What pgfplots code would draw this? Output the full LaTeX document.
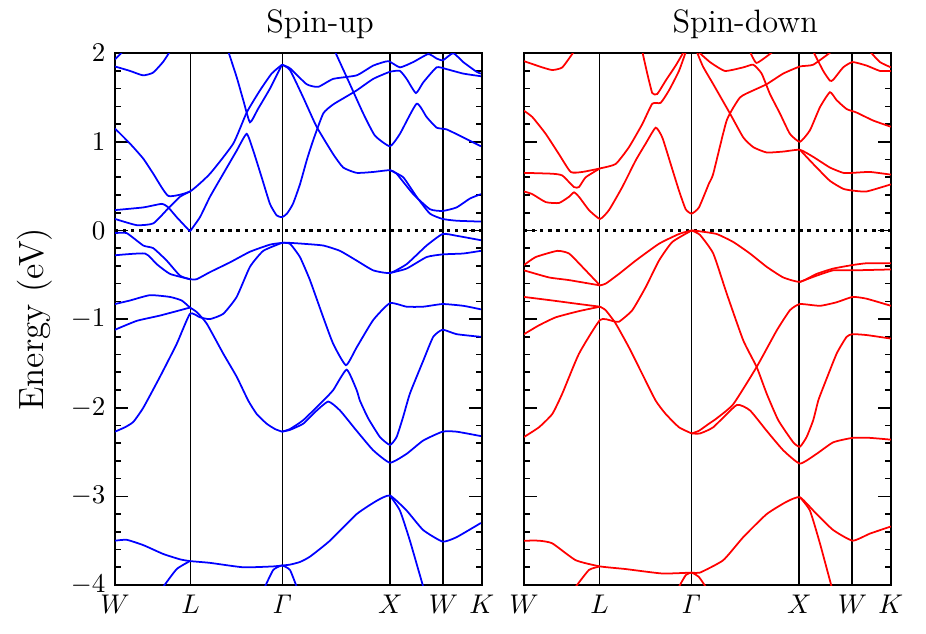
\documentclass[border=0pt]{standalone}
\usepackage{pgfplots}
\pgfplotsset{compat=1.18}
\begin{document}
\begin{tikzpicture}
\pgfplotsset{
  bandaxis/.style={
    scale only axis, width=135.9pt, height=197pt,
    xmin=0, xmax=367, ymin=-4, ymax=2,
    xtick={0,75.5,167.5,275.5,328.5,367},
    xticklabels={$W$,$L$,$\mathit{\Gamma}$,$X$,$W$,$K$},
    xtick style={draw=none},
    ytick={-4,-3,...,2}, minor y tick num=4,
    major tick length=4.7pt, minor tick length=2.2pt,
    tick style={black, line width=0.6pt},
    axis line style={line width=0.7pt},
    tick align=inside,
    title style={font=\large, yshift=-4.3pt},
    ylabel style={font=\fontsize{13}{15}\selectfont},
  },
  up/.style={blue, line width=0.65pt, mark=none, smooth, tension=0.3},
  dn/.style={red, line width=0.65pt, mark=none, smooth, tension=0.3},
  zero/.style={black, line width=0.8pt, dash pattern=on 1.2pt off 1.8pt},
  kline/.style={black, line width=0.7pt, mark=none},
}
\useasboundingbox (-42.6pt,-18.1pt) rectangle (300.4pt,216.7pt);

% ---------------- spin-up ----------------
\begin{axis}[bandaxis, title={Spin-up}, title style={xshift=8pt}, ylabel={Energy (eV)}]
\addplot[kline] coordinates {(75.5,-4) (75.5,2)};
\addplot[kline] coordinates {(167.5,-4) (167.5,2)};
\addplot[kline] coordinates {(275.5,-4) (275.5,2)};
\addplot[kline] coordinates {(328.5,-4) (328.5,2)};
\addplot[zero] coordinates {(0,0) (367,0)};
\addplot[up] coordinates {(0,1.93) (8,2.02)};
\addplot[up] coordinates {(0,1.85) (15,1.80) (28,1.75) (38,1.78) (48,1.9) (55,2.02)};
\addplot[up] coordinates {(0,1.15) (15,0.98) (28.3,0.81) (38.3,0.64) (53.3,0.39) (75,0.44) (95,0.64) (118.3,0.98) (131.7,1.33) (145,1.58) (156.7,1.77) (167,1.87)};
\addplot[up] coordinates {(113.3,2.02) (121.7,1.73) (128.3,1.47) (135,1.22) (143,1.37) (155,1.60) (163,1.78) (167,1.87)};
\addplot[up] coordinates {(75,-0.01) (85,0.15) (95,0.38) (108.3,0.64) (121.7,0.90) (131.7,1.09) (138.3,0.90) (146.7,0.60) (155,0.30) (161.7,0.17) (167,0.15) (172,0.19) (178,0.30) (185,0.52) (192,0.80) (198.3,1.02) (208.3,1.32) (218,1.42) (228.3,1.49) (241.7,1.58) (258.3,1.71) (275,1.79) (285,1.80) (291.7,1.71) (301,1.55) (308.3,1.67) (321.7,1.84) (331.7,1.82) (348.3,1.77) (366,1.74)};
\addplot[up] coordinates {(0,0.23) (28.3,0.26) (46.7,0.30) (53.3,0.26) (61.7,0.15) (75,-0.01)};
\addplot[up] coordinates {(0,0.13) (21.7,0.06) (38.3,0.08) (53.3,0.25) (65,0.38) (75,0.44)};
\addplot[up] coordinates {(0,-0.03) (11.7,-0.03) (28.3,-0.17) (38.3,-0.20) (51.7,-0.34) (65,-0.51) (75,-0.55)};
\addplot[up] coordinates {(0,-0.28) (30,-0.26) (41.7,-0.38) (55,-0.49) (75,-0.55)};
\addplot[up] coordinates {(75,-0.55) (81.7,-0.55) (95,-0.47) (115,-0.36) (135,-0.24) (155,-0.16) (167,-0.14) (175,-0.14) (188.3,-0.15) (208.3,-0.17) (225,-0.23) (241.7,-0.34) (258.3,-0.45) (275,-0.48) (291.7,-0.38) (311.7,-0.17) (327.7,-0.04) (341.7,-0.06) (366,-0.11)};
\addplot[up] coordinates {(275,-0.48) (291.7,-0.43) (311.7,-0.30) (327.7,-0.27) (348.3,-0.26) (366,-0.23)};
\addplot[up] coordinates {(0,-0.83) (15,-0.79) (35,-0.73) (55,-0.75) (66.7,-0.79) (75,-0.87)};
\addplot[up] coordinates {(0,-1.12) (21.7,-1.02) (45,-0.96) (75,-0.87)};
\addplot[up] coordinates {(75,-0.87) (81.7,-0.92) (91.7,-1.05) (108.3,-1.39) (121.7,-1.65) (133.3,-1.92) (141.7,-2.07) (151.7,-2.18) (160,-2.24) (167,-2.27)};
\addplot[up] coordinates {(0,-2.27) (10,-2.22) (18.3,-2.16) (28.3,-2.0) (45,-1.65) (61.7,-1.28) (75,-0.94) (85,-0.98) (95,-1.0) (108.3,-0.94) (121.7,-0.75) (135,-0.41) (148.3,-0.23) (167,-0.14)};
\addplot[up] coordinates {(167,-0.14) (175,-0.15) (185,-0.30) (195,-0.56) (208.3,-0.98) (218.3,-1.28) (231,-1.52) (241.7,-1.32) (258.3,-1.01) (275,-0.82) (291.7,-0.86) (308.3,-0.86) (327.7,-0.83) (348.3,-0.85) (366,-0.89)};
\addplot[up] coordinates {(167,-2.27) (175,-2.24) (188.3,-2.14) (208.3,-1.92) (218.3,-1.80) (231.7,-1.57) (241.7,-1.80) (245,-1.92) (253.3,-2.12) (265,-2.33) (275,-2.42) (281.7,-2.33) (288.3,-2.1) (295,-1.84) (308.3,-1.47) (318.3,-1.20) (327.7,-1.12) (341.7,-1.17) (366,-1.20)};
\addplot[up] coordinates {(167,-2.27) (175,-2.25) (188.3,-2.18) (200,-2.05) (213.3,-1.93) (225,-2.03) (241.7,-2.26) (258.3,-2.48) (275,-2.62) (291.7,-2.52) (308.3,-2.37) (327.7,-2.27) (341.7,-2.27) (366,-2.32)};
\addplot[up] coordinates {(167,1.87) (175,1.83) (191.7,1.65) (203.3,1.62) (218.3,1.71) (241.7,1.75) (258.3,1.86) (273.3,1.91) (285,1.84) (298.3,1.90) (313.3,1.99) (321.7,1.94) (328,1.92) (338.3,2.0) (348.3,1.90) (361.7,1.79) (366,1.77)};
\addplot[up] coordinates {(167,1.87) (175,1.81) (188.3,1.50) (201.7,1.17) (218.3,0.86) (228.3,0.71) (241.7,0.65) (258.3,0.66) (275,0.68) (281.7,0.64) (298.3,0.41) (315,0.24) (327.7,0.22) (341.7,0.26) (355,0.36) (366,0.41)};
\addplot[up] coordinates {(275,0.68) (288.3,0.60) (301.7,0.38) (315,0.19) (327.7,0.13) (341.7,0.11) (366,0.10)};
\addplot[up] coordinates {(220,2.02) (235,1.65) (248.3,1.32) (260,1.07) (275,0.95) (285,1.09) (301.7,1.43) (311.7,1.28) (321.7,1.16) (331.7,1.14) (348.3,1.05) (366,0.95)};
\addplot[up] coordinates {(0,-3.50) (11.7,-3.49) (28.3,-3.55) (48.3,-3.65) (65,-3.71) (75,-3.73) (95,-3.75) (128.3,-3.80) (158.3,-3.79) (167,-3.78) (175,-3.77) (185,-3.74) (195,-3.68) (215,-3.50) (241.7,-3.20) (261.7,-3.05) (275,-2.99) (291.7,-3.16) (308.3,-3.38) (327.7,-3.51) (341.7,-3.46) (366,-3.30)};
\addplot[up] coordinates {(48.3,-4.02) (61.7,-3.82) (75,-3.73)};
\addplot[up] coordinates {(150,-4.02) (158.3,-3.83) (167,-3.78) (175,-3.83) (181.7,-4.02)};
\addplot[up] coordinates {(275,-2.99) (285,-3.16) (295,-3.50) (308.3,-4.02)};
\end{axis}

% ---------------- spin-down ----------------
\begin{axis}[bandaxis, at={(151.5pt,0pt)}, anchor=south west, title={Spin-down}, title style={xshift=14pt}, yticklabels={}]
\addplot[kline] coordinates {(75.5,-4) (75.5,2)};
\addplot[kline] coordinates {(167.5,-4) (167.5,2)};
\addplot[kline] coordinates {(275.5,-4) (275.5,2)};
\addplot[kline] coordinates {(328.5,-4) (328.5,2)};
\addplot[zero] coordinates {(0,0) (367,0)};
\addplot[dn] coordinates {(0,1.91) (18.3,1.84) (28.3,1.81) (38.3,1.84) (50,2.02)};
\addplot[dn] coordinates {(0,1.35) (8.3,1.28) (21.7,1.09) (35,0.86) (46.7,0.66) (58.3,0.66) (76,0.70) (91.7,0.75) (105,0.94) (118.3,1.20) (128.3,1.43) (136.7,1.44) (145,1.58) (155,1.80) (162,2.02)};
\addplot[dn] coordinates {(118.3,2.02) (123.3,1.77) (128.3,1.55) (133.3,1.54) (141.7,1.69) (151.7,1.86) (160,2.02)};
\addplot[dn] coordinates {(0,0.65) (28.3,0.64) (38.3,0.62) (50,0.49) (55,0.49) (61.7,0.60) (76,0.70)};
\addplot[dn] coordinates {(0,0.44) (8.3,0.41) (21.7,0.32) (35,0.31) (45,0.38) (50,0.43) (55,0.38) (65,0.23) (76,0.13) (85,0.23) (98.3,0.49) (111.7,0.79) (121.7,0.98) (131.7,1.16) (138.3,1.05) (146.7,0.75) (155,0.45) (161.7,0.24) (167.7,0.19) (175,0.26) (185,0.53) (189.3,0.64) (202.7,1.24) (216,1.50) (229.3,1.58) (242.7,1.65) (259.3,1.77) (276,1.85) (289.3,1.87) (307.7,2.02)};
\addplot[dn] coordinates {(172,2.04) (186,1.90) (201,1.80) (219.3,1.84) (229.3,1.87) (237.7,1.77) (246,1.54) (256,1.32) (266,1.09) (276,1.0) (286,1.13) (296,1.39) (306,1.56) (312.7,1.47) (322.7,1.37) (332.7,1.33) (349.3,1.24) (367,1.17)};
\addplot[dn] coordinates {(226,2.02) (232.7,1.89) (249.3,2.02)};
\addplot[dn] coordinates {(172,2.04) (179,1.85) (189.3,1.65) (206,1.32) (219.3,1.05) (229.3,0.94) (242.7,0.88) (259.3,0.89) (276,0.91) (289.3,0.83) (306,0.71) (319.3,0.65) (328.7,0.65) (346,0.66) (367,0.63)};
\addplot[dn] coordinates {(276,0.91) (289.3,0.75) (306,0.56) (319.3,0.47) (328.7,0.45) (342.7,0.44) (367,0.52)};
\addplot[dn] coordinates {(289.3,2.02) (299.3,1.80) (306,1.69) (309.3,1.70) (319.3,1.84) (328.7,1.90) (342.7,1.86) (356,1.80) (367,1.80)};
\addplot[dn] coordinates {(346,2.02) (356,1.90) (367,1.84)};
\addplot[dn] coordinates {(0,-0.39) (11.7,-0.30) (33.3,-0.23) (45,-0.26) (58.3,-0.41) (76,-0.62)};
\addplot[dn] coordinates {(0,-0.45) (25,-0.53) (45,-0.56) (76,-0.62)};
\addplot[dn] coordinates {(76,-0.62) (81.7,-0.60) (95,-0.49) (111.7,-0.34) (135,-0.15) (155,-0.04) (167.7,0.0) (176,-0.01) (192.7,-0.04) (209.3,-0.13) (226,-0.26) (242.7,-0.41) (259.3,-0.53) (276,-0.58) (292.7,-0.49) (309.3,-0.43) (328.7,-0.39) (342.7,-0.37) (367,-0.37)};
\addplot[dn] coordinates {(276,-0.58) (292.7,-0.51) (309.3,-0.45) (328.7,-0.45) (367,-0.44)};
\addplot[dn] coordinates {(0,-0.75) (28.3,-0.79) (55,-0.83) (76,-0.86)};
\addplot[dn] coordinates {(0,-1.17) (15,-1.07) (31.7,-0.98) (55,-0.91) (76,-0.86)};
\addplot[dn] coordinates {(76,-0.86) (81.7,-0.90) (91.7,-1.05) (105,-1.32) (118.3,-1.62) (131.7,-1.92) (141.7,-2.07) (155,-2.22) (167.7,-2.29)};
\addplot[dn] coordinates {(0,-2.33) (15,-2.22) (28.3,-2.07) (38.3,-1.84) (55,-1.39) (76,-1.01) (88.3,-1.02) (95,-1.03) (108.3,-0.90) (121.7,-0.64) (135,-0.34) (148.3,-0.13) (167.7,0.0)};
\addplot[dn] coordinates {(167.7,0.0) (176,-0.05) (189.3,-0.26) (202.7,-0.71) (219.3,-1.24) (232.7,-1.54) (242.7,-1.84) (254.3,-2.14) (269.3,-2.39) (276,-2.44) (282.7,-2.33) (289.3,-2.14) (294.3,-1.92) (299.3,-1.77) (312.7,-1.39) (322.7,-1.20) (328.7,-1.17) (342.7,-1.18) (367,-1.22)};
\addplot[dn] coordinates {(167.7,-2.29) (175,-2.26) (185,-2.18) (192.7,-2.12) (209.3,-1.96) (232.7,-1.54) (252.7,-1.13) (266,-0.90) (276,-0.83) (296,-0.85) (312.7,-0.81) (328.7,-0.75) (342.7,-0.77) (367,-0.85)};
\addplot[dn] coordinates {(167.7,-2.29) (176,-2.29) (189.3,-2.22) (212.7,-1.97) (226,-2.03) (242.7,-2.26) (259.3,-2.48) (276,-2.63) (292.7,-2.52) (309.3,-2.39) (328.7,-2.34) (346,-2.34) (367,-2.36)};
\addplot[dn] coordinates {(0,-3.50) (15,-3.50) (28.3,-3.53) (51.7,-3.72) (76,-3.79) (101.7,-3.82) (138.3,-3.87) (167.7,-3.86) (176,-3.86) (199.3,-3.72) (219.3,-3.46) (242.7,-3.20) (262.7,-3.06) (276,-3.01) (292.7,-3.20) (309.3,-3.38) (328.7,-3.50) (346,-3.42) (367,-3.34)};
\addplot[dn] coordinates {(51.7,-4.02) (65,-3.83) (76,-3.79)};
\addplot[dn] coordinates {(155,-4.02) (161.7,-3.89) (167.7,-3.86) (175,-3.91) (181.7,-4.02)};
\addplot[dn] coordinates {(276,-3.01) (286,-3.16) (296,-3.53) (307.7,-4.02)};
\end{axis}
\end{tikzpicture}
\end{document}
